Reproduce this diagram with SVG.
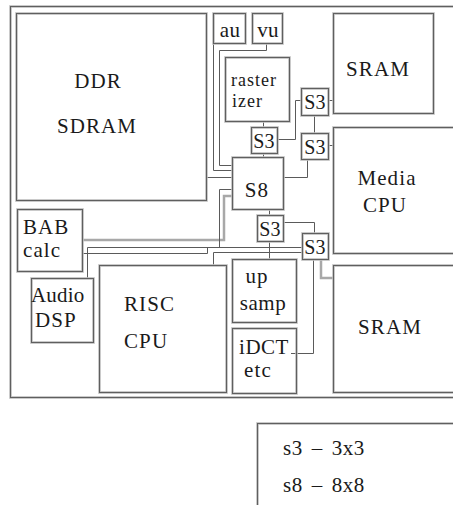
<svg xmlns="http://www.w3.org/2000/svg" width="453" height="505" viewBox="0 0 453 505">
<style>
.g{fill:none;stroke:#bdbdbd;stroke-width:2.6}
.d{fill:none;stroke:#5f5f5f;stroke-width:1}
.c{text-anchor:middle}
.s{font-size:20px;letter-spacing:0.3px}
.w{fill:none;stroke:#5a5a5a;stroke-width:1}
.wg{fill:none;stroke:#a8a8a8;stroke-width:2.5}
</style>
<rect width="453" height="505" fill="#fff"/>
<g id="frame">
<rect x="10.5" y="6.5" width="460" height="391" class="g" stroke-width="2"/>
<rect x="10.5" y="6.5" width="460" height="391" class="d" stroke="#8a8a8a"/>
</g>
<g id="connectors">
<polyline class="w" points="213.5,43 213.5,170.5 232,170.5"/>
<polyline class="w" points="266.5,43 266.5,50.5 219.5,50.5 219.5,165.5 232,165.5"/>
<polyline class="w" points="207,177.5 232,177.5"/>
<polyline class="w" points="263.5,121 263.5,127"/>
<polyline class="w" points="263.5,153 263.5,157"/>
<polyline class="w" points="277,139.5 295.5,139.5 295.5,100.5 301,100.5"/>
<polyline class="w" points="328,100.5 333,100.5"/>
<polyline class="w" points="314.5,115 314.5,133"/>
<polyline class="w" points="328,145.5 333,145.5"/>
<polyline class="w" points="283,177.5 307.5,177.5 307.5,159"/>
<polyline class="w" points="269.5,209 269.5,215"/>
<polyline class="w" points="283,222.5 314.5,222.5 314.5,233"/>
<polyline class="w" points="269.5,241 269.5,259"/>
<polyline class="wg" points="321,259 321,278 333,278"/>
<polyline class="w" points="313.5,259 313.5,353.5 291,353.5"/>
<polyline class="wg" points="232,196 224,196 224,240 82,240"/>
<polyline class="w" points="232,189.5 219.5,189.5 219.5,247"/>
<polyline class="w" points="87.5,278 87.5,247.5 302,247.5"/>
<polyline class="w" points="82,253.5 207.5,253.5 207.5,247.5"/>
<polyline class="w" points="213.5,265 213.5,252.5 302,252.5"/>
</g>
<g font-family="Liberation Serif, DejaVu Serif, serif" font-size="21" fill="#1a1a1a" letter-spacing="1.1">
<g id="ddr">
<rect x="16.5" y="13.5" width="190" height="187" class="g"/>
<rect x="16.5" y="13.5" width="190" height="187" class="d"/>
<text x="98" y="88" class="c">DDR</text>
<text x="97" y="133" class="c">SDRAM</text>
</g>
<g id="au">
<rect x="213.5" y="13.5" width="32" height="30" class="g"/>
<rect x="213.5" y="13.5" width="32" height="30" class="d"/>
<text x="230" y="37" class="c" letter-spacing="0.3">au</text>
</g>
<g id="vu">
<rect x="252.5" y="13.5" width="30" height="30" class="g"/>
<rect x="252.5" y="13.5" width="30" height="30" class="d"/>
<text x="268" y="37" class="c" letter-spacing="0.3">vu</text>
</g>
<g id="rasterizer">
<rect x="225.5" y="57.5" width="64" height="64" class="g"/>
<rect x="225.5" y="57.5" width="64" height="64" class="d"/>
<text x="231" y="86" font-size="18" letter-spacing="1">raster</text>
<text x="232" y="107" font-size="18" letter-spacing="1">izer</text>
</g>
<g id="sram1">
<rect x="333.5" y="13.5" width="100" height="100" class="g"/>
<rect x="333.5" y="13.5" width="100" height="100" class="d"/>
<text x="378" y="76" class="c">SRAM</text>
</g>
<g id="s3a">
<rect x="251.5" y="127.5" width="26" height="26" class="g"/>
<rect x="251.5" y="127.5" width="26" height="26" class="d"/>
<text x="264" y="148" class="c s">S3</text>
</g>
<g id="s3b">
<rect x="301.5" y="88.5" width="27" height="27" class="g"/>
<rect x="301.5" y="88.5" width="27" height="27" class="d"/>
<text x="315" y="109" class="c s">S3</text>
</g>
<g id="s3c">
<rect x="301.5" y="133.5" width="27" height="26" class="g"/>
<rect x="301.5" y="133.5" width="27" height="26" class="d"/>
<text x="315" y="154" class="c s">S3</text>
</g>
<g id="s8">
<rect x="232.5" y="157.5" width="51" height="52" class="g"/>
<rect x="232.5" y="157.5" width="51" height="52" class="d"/>
<text x="257" y="197" class="c">S8</text>
</g>
<g id="media">
<rect x="333.5" y="127.5" width="130" height="126" class="g"/>
<rect x="333.5" y="127.5" width="130" height="126" class="d"/>
<text x="387" y="185" class="c">Media</text>
<text x="385" y="212" class="c">CPU</text>
</g>
<g id="s3d">
<rect x="257.5" y="215.5" width="26" height="26" class="g"/>
<rect x="257.5" y="215.5" width="26" height="26" class="d"/>
<text x="270" y="236" class="c s">S3</text>
</g>
<g id="s3e">
<rect x="302.5" y="233.5" width="26" height="26" class="g"/>
<rect x="302.5" y="233.5" width="26" height="26" class="d"/>
<text x="315" y="254" class="c s">S3</text>
</g>
<g id="bab">
<rect x="17.5" y="209.5" width="65" height="62" class="g"/>
<rect x="17.5" y="209.5" width="65" height="62" class="d"/>
<text x="23" y="234">BAB</text>
<text x="23" y="257">calc</text>
</g>
<g id="audio">
<rect x="31.5" y="278.5" width="62" height="64" class="g"/>
<rect x="31.5" y="278.5" width="62" height="64" class="d"/>
<text x="31" y="302" letter-spacing="0.2">Audio</text>
<text x="35" y="327">DSP</text>
</g>
<g id="risc">
<rect x="99.5" y="265.5" width="127" height="127" class="g"/>
<rect x="99.5" y="265.5" width="127" height="127" class="d"/>
<text x="124" y="311">RISC</text>
<text x="124" y="348">CPU</text>
</g>
<g id="upsamp">
<rect x="232.5" y="259.5" width="64" height="63" class="g"/>
<rect x="232.5" y="259.5" width="64" height="63" class="d"/>
<text x="257" y="283" class="c">up</text>
<text x="263" y="310" class="c" letter-spacing="0.5">samp</text>
</g>
<g id="idct">
<rect x="232.5" y="328.5" width="64" height="65" class="g"/>
<rect x="232.5" y="328.5" width="64" height="65" class="d"/>
<text x="264" y="354" class="c" letter-spacing="0.5">iDCT</text>
<text x="258" y="377" class="c">etc</text>
</g>
<g id="sram2">
<rect x="333.5" y="265.5" width="130" height="127" class="g"/>
<rect x="333.5" y="265.5" width="130" height="127" class="d"/>
<text x="390" y="334" class="c">SRAM</text>
</g>
<g id="legend">
<rect x="257.5" y="423.5" width="210" height="100" class="g" stroke-width="2"/>
<rect x="257.5" y="423.5" width="210" height="100" class="d" stroke="#8a8a8a"/>
<text x="283" y="455" word-spacing="3" letter-spacing="0.6">s3 – 3x3</text>
<text x="283" y="492" word-spacing="3" letter-spacing="0.6">s8 – 8x8</text>
</g>
</g>
</svg>
